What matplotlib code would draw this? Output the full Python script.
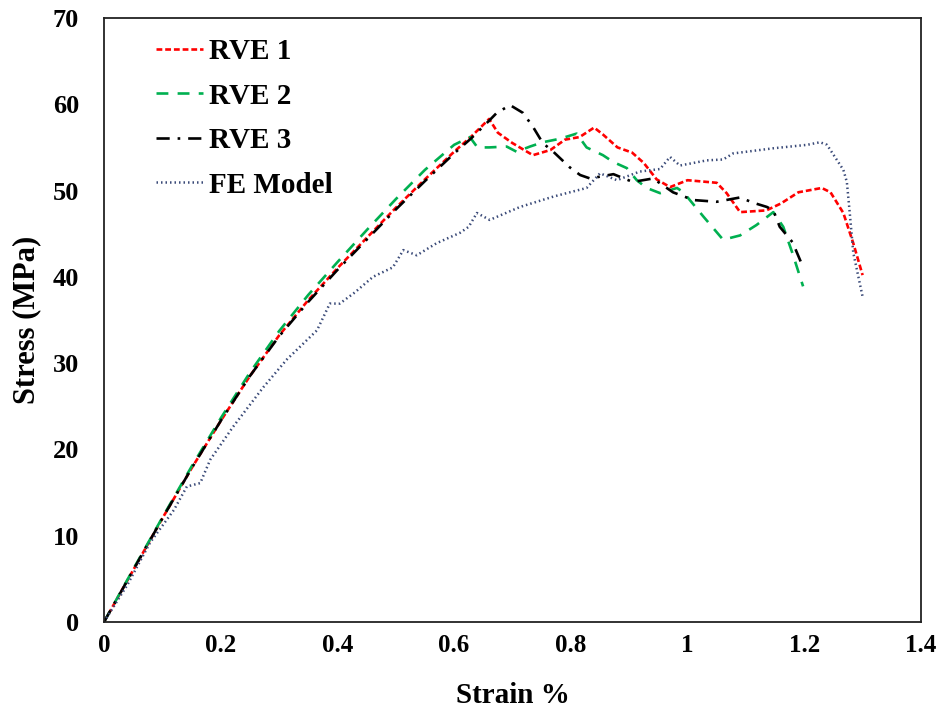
import numpy as np
import matplotlib.pyplot as plt

# strain (%) and stress (MPa)
rve1_x = [0, 0.05, 0.1, 0.15, 0.2, 0.25, 0.3, 0.35, 0.4, 0.45, 0.5, 0.55, 0.6, 0.63,
          0.66, 0.675, 0.7, 0.735, 0.765, 0.79, 0.815, 0.84, 0.855, 0.88, 0.905, 0.925,
          0.947, 0.97, 1.0, 1.05, 1.067, 1.09, 1.135, 1.16, 1.19, 1.23, 1.245, 1.267,
          1.284, 1.30]
rve1_y = [0, 6, 12, 17.8, 23.3, 28.5, 33.2, 37.3, 41.0, 44.5, 48.0, 51.3, 54.5, 56.3,
          58.3, 56.7, 55.5, 54.1, 54.7, 55.9, 56.2, 57.3, 56.5, 55.0, 54.4, 53.2,
          51.3, 50.4, 51.2, 50.9, 49.7, 47.5, 47.7, 48.5, 49.8, 50.3, 49.8, 47.4,
          43.9, 40.2]

rve2_x = [0, 0.05, 0.1, 0.15, 0.2, 0.25, 0.3, 0.35, 0.4, 0.45, 0.5, 0.55, 0.6, 0.627,
          0.64, 0.66, 0.69, 0.707, 0.73, 0.752, 0.781, 0.81, 0.827, 0.855, 0.873, 0.896,
          0.913, 0.93, 0.953, 0.982, 0.993, 1.027, 1.061, 1.09, 1.118, 1.147, 1.164,
          1.18, 1.198]
rve2_y = [0, 6.1, 12.1, 18.0, 23.6, 28.9, 33.7, 37.9, 41.7, 45.4, 49.0, 52.4, 55.3, 56.2,
          55.0, 55.0, 55.1, 54.5, 55.1, 55.6, 56.0, 56.6, 55.0, 54.1, 53.3, 52.6,
          51.2, 50.3, 49.7, 50.3, 49.8, 47.0, 44.3, 44.8, 46.0, 47.5, 45.8,
          42.7, 38.9]

rve3_x = [0, 0.05, 0.1, 0.15, 0.2, 0.25, 0.3, 0.35, 0.4, 0.45, 0.5, 0.55, 0.6, 0.63,
          0.66, 0.673, 0.696, 0.718, 0.735, 0.752, 0.77, 0.798, 0.816, 0.833, 0.873,
          0.906, 0.941, 0.975, 1.01, 1.05, 1.09, 1.112, 1.136, 1.147, 1.158, 1.18, 1.195]
rve3_y = [0, 6, 12, 17.8, 23.3, 28.5, 33.1, 37.1, 40.8, 44.3, 47.8, 51.1, 54.3, 56.1,
          58.1, 59.0, 59.9, 59.0, 57.4, 55.5, 54.5, 52.7, 51.8, 51.4, 51.9,
          51.0, 51.4, 49.8, 48.9, 48.7, 49.2, 48.6, 48.1, 47.7, 45.8, 44.0, 41.6]

fe_x = [0, 0.04, 0.079, 0.12, 0.142, 0.165, 0.182, 0.221, 0.273, 0.313, 0.365, 0.387,
        0.404, 0.43, 0.461, 0.495, 0.513, 0.536, 0.57, 0.61, 0.625, 0.639, 0.661, 0.713,
        0.77, 0.827, 0.85, 0.879, 0.918, 0.953, 0.97, 0.987, 1.033, 1.061, 1.078,
        1.147, 1.205, 1.227, 1.239, 1.267, 1.273, 1.278, 1.284, 1.30]
fe_y = [0, 4.3, 9.2, 13.0, 15.7, 16.1, 18.8, 22.6, 27.2, 30.4, 33.8, 36.9,
        36.9, 38.2, 40.0, 41.1, 43.1, 42.5, 43.9, 45.1, 45.8, 47.4, 46.6, 48.1,
        49.3, 50.3, 52.0, 51.2, 52.2, 52.5, 53.9, 52.9, 53.5, 53.6, 54.3,
        54.9, 55.3, 55.6, 55.3, 52.4, 51.0, 47.4, 42.8, 37.7]

x_ticks = [0, 0.2, 0.4, 0.6, 0.8, 1.0, 1.2, 1.4]
x_tick_labels = ["0", "0.2", "0.4", "0.6", "0.8", "1", "1.2", "1.4"]
y_ticks = [0, 10, 20, 30, 40, 50, 60, 70]

plt.rcParams["font.family"] = ["Liberation Serif", "DejaVu Serif"]
plt.rcParams["font.weight"] = "bold"

fig = plt.figure(figsize=(9.47, 7.11), dpi=100)
ax = fig.add_axes([0.1098, 0.1252, 0.8627, 0.8495])

ax.plot(rve1_x, rve1_y, color="#FF0000", lw=1.9, dashes=(2.2, 1.1), label="RVE 1")
ax.plot(rve2_x, rve2_y, color="#00B050", lw=1.9, dashes=(4.5, 3.5), label="RVE 2")
ax.plot(rve3_x, rve3_y, color="black", lw=1.9, dashes=(5, 3, 1, 3), label="RVE 3")
ax.plot(fe_x, fe_y, color="#3A4A78", lw=1.8, dashes=(0.6, 1.2), label="FE Model")

ax.set_xlim(0, 1.4)
ax.set_ylim(0, 70)
ax.set_xticks(x_ticks)
ax.set_xticklabels(x_tick_labels, fontsize=18, fontweight="bold")
ax.set_yticks(y_ticks)
ax.set_yticklabels([str(v) for v in y_ticks], fontsize=19, fontweight="bold")
ax.tick_params(axis="x", length=0, pad=9)
ax.tick_params(axis="y", length=0, pad=18)
for s in ax.spines.values():
    s.set_linewidth(1.3)
    s.set_color("#222222")

ax.set_xlabel("Strain %", fontsize=21, fontweight="bold", labelpad=18)
ax.set_ylabel("Stress (MPa)", fontsize=22, fontweight="bold", labelpad=8)

leg = ax.legend(loc="upper left", bbox_to_anchor=(0.032, 1.01), frameon=False,
                fontsize=21, handlelength=1.6, handletextpad=0.2, labelspacing=0.6)
for t in leg.get_texts():
    t.set_fontweight("bold")

fig.savefig("out.png", dpi=100)
